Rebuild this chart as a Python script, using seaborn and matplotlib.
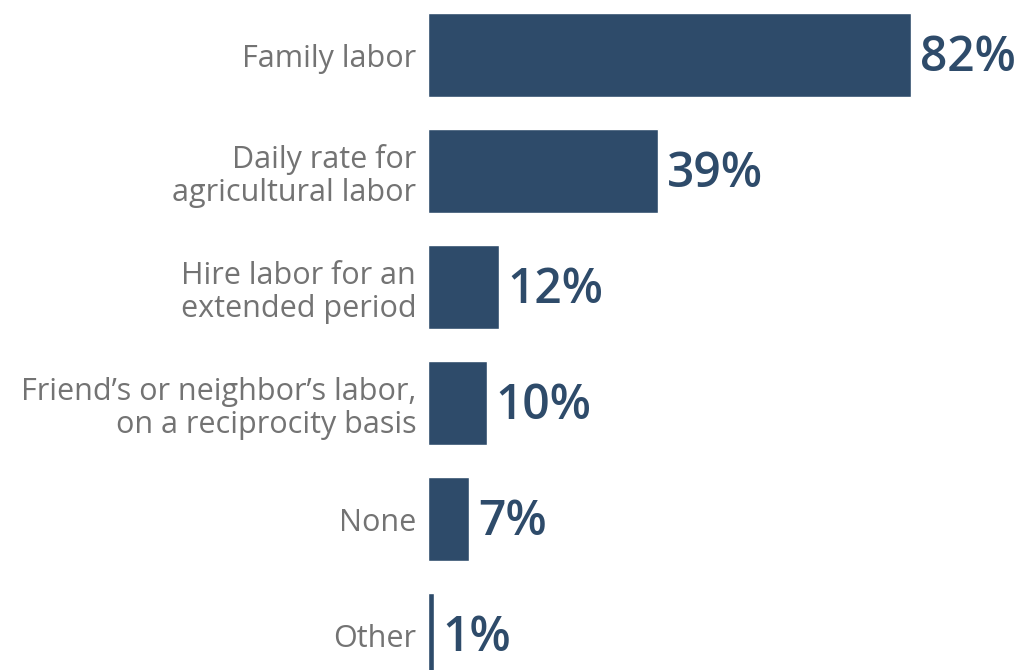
import matplotlib
matplotlib.use("Agg")
import matplotlib.pyplot as plt
import seaborn as sns
import pandas as pd

categories = [
    "Family labor",
    "Daily rate for\nagricultural labor",
    "Hire labor for an\nextended period",
    "Friend\u2019s or neighbor\u2019s labor,\non a reciprocity basis",
    "None",
    "Other",
]
values = [82, 39, 12, 10, 7, 1]

df = pd.DataFrame({"category": categories, "value": values})

sns.set_theme(style="white")
plt.rcParams["font.family"] = ["Open Sans", "DejaVu Sans"]

bar_color = "#2e4b6a"
label_color = "#737373"

fig = plt.figure(figsize=(10.25, 6.7), dpi=100)
ax = fig.add_axes([428 / 1025, 0, 597 / 1025, 1])

sns.barplot(data=df, x="value", y="category", color=bar_color, width=0.72,
            saturation=1, ax=ax, orient="h")

ax.set_xlim(0, 101.4)
ax.set_ylim(5.30, -0.474)
ax.set_xlabel("")
ax.set_ylabel("")
ax.set_xticks([])
ax.tick_params(axis="y", length=0, pad=8.5, labelsize=22, labelcolor=label_color)
for lab in ax.get_yticklabels():
    lab.set_horizontalalignment("right")
    lab.set_multialignment("right")
    lab.set_linespacing(1.15)
for s in ax.spines.values():
    s.set_visible(False)

for i, v in enumerate(values):
    ax.text(v + 1.5, i + 0.03, f"{v}%", va="center", ha="left",
            fontsize=34.5, fontweight="semibold", color=bar_color)

fig.savefig("out.png", dpi=100)
